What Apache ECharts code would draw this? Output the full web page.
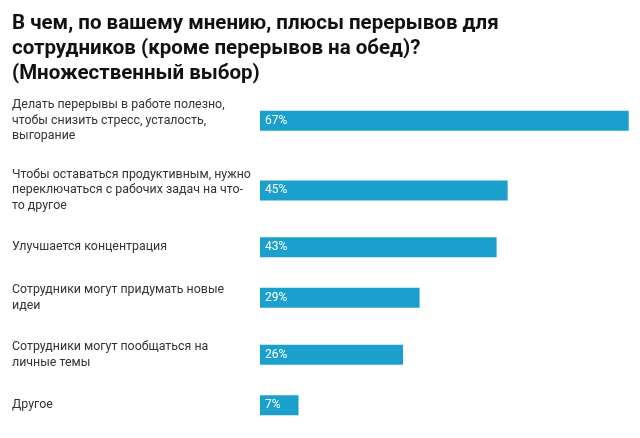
<!DOCTYPE html>
<html>
<head>
<meta charset="utf-8">
<script src="https://cdn.jsdelivr.net/npm/echarts@6/dist/echarts.min.js"></script>
<style>
  html, body { margin: 0; padding: 0; background: #fff; }
  #main { width: 640px; height: 438px; }
</style>
</head>
<body>
<div id="main"></div>
<script>
// данные
var titleText = 'В чем, по вашему мнению, плюсы перерывов для\nсотрудников (кроме перерывов на обед)?\n(Множественный выбор)';
var categories = [
    'Делать перерывы в работе полезно,\nчтобы снизить стресс, усталость,\nвыгорание',
    'Чтобы оставаться продуктивным, нужно\nпереключаться с рабочих задач на что-\nто другое',
    'Улучшается концентрация',
    'Сотрудники могут придумать новые\nидеи',
    'Сотрудники могут пообщаться на\nличные темы',
    'Другое'
];
var values = [67, 45, 43, 29, 26, 7];

var myChart = echarts.init(document.getElementById('main'));

// высота строки зависит от числа строк в подписи
var barH = 20;
var gap = 21.5;
var rowTop = 86;
var maxVal = Math.max.apply(null, values);

var grids = [], xAxes = [], yAxes = [], series = [];
var y = rowTop;
for (var i = 0; i < categories.length; i++) {
    var lines = categories[i].split('\n').length;
    var slot = 10 + 12.7 * lines + gap;
    grids.push({ left: 260, right: 11.3, top: y + slot / 2 - barH / 2, height: barH });
    xAxes.push({
        type: 'value', gridIndex: i, min: 0, max: maxVal, show: false
    });
    yAxes.push({
        type: 'category', gridIndex: i, data: [categories[i]],
        axisLine: { show: false },
        axisTick: { show: false },
        axisLabel: {
            align: 'left',
            margin: 248,
            color: '#333',
            fontFamily: 'Roboto',
            fontSize: 12.4,
            lineHeight: 15.5
        }
    });
    series.push({
        type: 'bar', xAxisIndex: i, yAxisIndex: i,
        data: [values[i]],
        barWidth: barH,
        itemStyle: { color: '#1ba0cd' },
        label: {
            show: true,
            position: 'insideLeft',
            distance: 5,
            formatter: '{c}%',
            color: '#fff',
            fontFamily: 'Roboto',
            fontSize: 12
        },
        silent: true
    });
    y += slot;
}

var option = {
    animation: false,
    title: {
        text: titleText,
        left: 12,
        top: 11,
        padding: 0,
        textStyle: {
            color: '#111',
            fontFamily: 'Roboto',
            fontWeight: 'bold',
            fontSize: 20.5,
            lineHeight: 25
        }
    },
    grid: grids,
    xAxis: xAxes,
    yAxis: yAxes,
    series: series
};

myChart.setOption(option);
window.onresize = myChart.resize;
</script>
</body>
</html>
